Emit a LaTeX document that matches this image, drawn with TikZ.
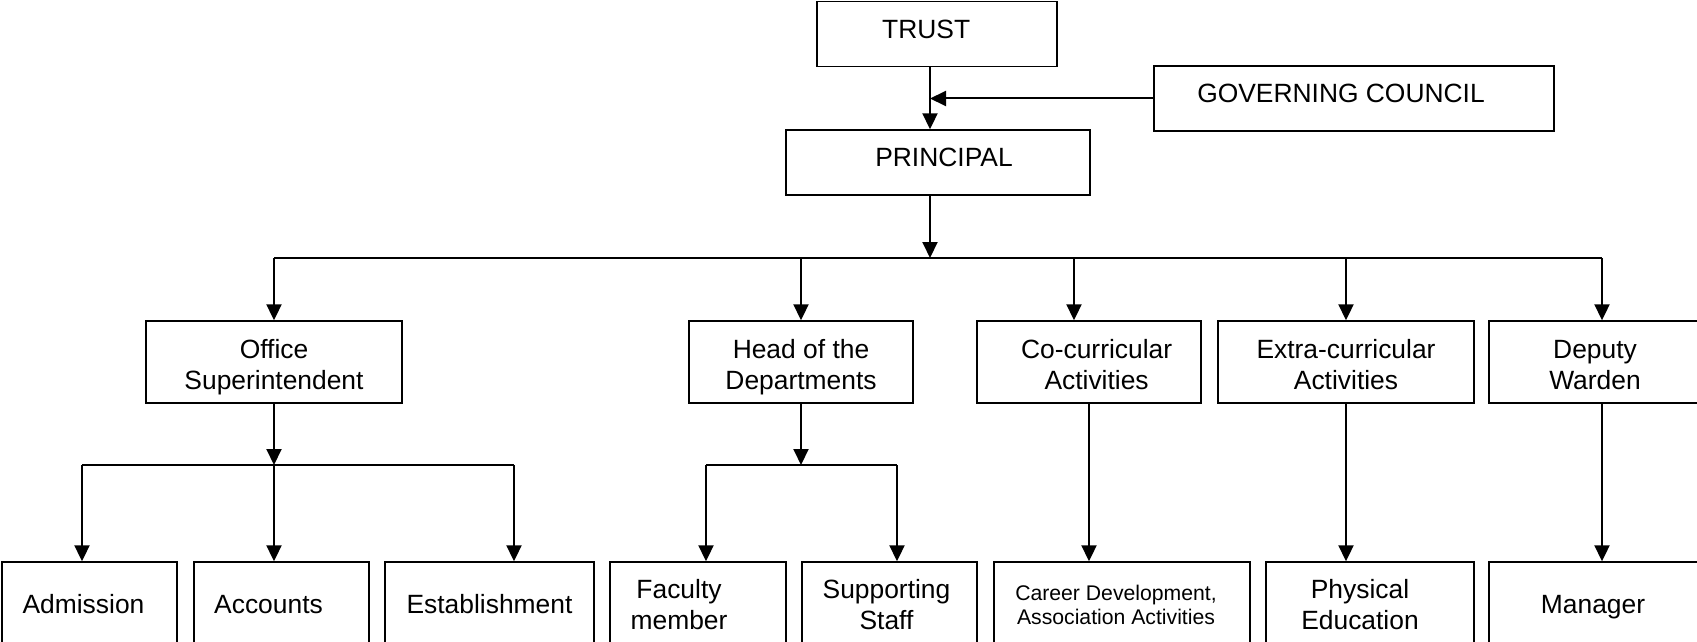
\documentclass[tikz,border=0pt]{standalone}
\usepackage{fontspec}
\setmainfont{Liberation Sans}
\usetikzlibrary{arrows.meta}
\tikzstyle{unit} = [rectangle, draw=black, line width=0.7pt, inner sep=0pt, align=center]
\tikzstyle{headbox} = [unit, minimum height=32.5pt]
\tikzstyle{midbox} = [unit, minimum height=41pt]
\tikzstyle{leafbox} = [unit, minimum height=42pt]
\tikzstyle{arrow} = [line width=1pt,-{Triangle[length=8pt,width=7.5pt]}]
\tikzstyle{link} = [line width=1pt]
% text placed off the middle of its box: x shift, y shift, lines
\newcommand{\nudge}[3]{\hspace*{#1}\raisebox{#2}[\height][\depth]{\begin{tabular}{@{}c@{}}#3\end{tabular}}\hspace*{-#1}}

\begin{document}
\begin{tikzpicture}[x=0.5pt, y=-0.5pt, font=\fontsize{13.2}{15.5}\selectfont]
    \useasboundingbox (0,0) rectangle (1697,642);
    \clip (0,0) rectangle (1697,642);

    % top of the chart
    \node (trust) [headbox, minimum width=120pt] at (937,34) {\nudge{-5.4pt}{1pt}{TRUST}};
    \node (gc) [headbox, minimum width=200pt] at (1354,98.5) {\nudge{-6.5pt}{1pt}{GOVERNING COUNCIL}};
    \node (principal) [headbox, minimum width=152pt] at (938,162.5) {\nudge{3pt}{1pt}{PRINCIPAL}};

    % second level
    \node (os) [midbox, minimum width=128pt] at (274,362) {\nudge{0pt}{-2.7pt}{Office\\Superintendent}};
    \node (hod) [midbox, minimum width=112pt] at (801,362) {\nudge{0pt}{-2.7pt}{Head of the\\Departments}};
    \node (cc) [midbox, minimum width=112pt] at (1089,362) {\nudge{3.8pt}{-2.7pt}{Co-curricular\\Activities}};
    \node (ec) [midbox, minimum width=128pt] at (1346,362) {\nudge{0pt}{-2.7pt}{Extra-curricular\\Activities}};
    \node (dw) [midbox, minimum width=113pt] at (1602,362) {\nudge{-3.5pt}{-2.7pt}{Deputy\\Warden}};

    % third level
    \node (adm) [leafbox, minimum width=87.5pt] at (89.5,604) {\nudge{-3pt}{-1.6pt}{Admission}};
    \node (acc) [leafbox, minimum width=87.5pt] at (281.5,604) {\nudge{-6.5pt}{-1.6pt}{Accounts}};
    \node (est) [leafbox, minimum width=104.5pt] at (489.5,604) {\nudge{0pt}{-1.6pt}{Establishment}};
    \node (fac) [leafbox, minimum width=88pt] at (698,604) {\nudge{-9.5pt}{-2pt}{Faculty\\member}};
    \node (sup) [leafbox, minimum width=87.5pt] at (889.5,604) {\nudge{-1.5pt}{-2pt}{Supporting\\Staff}};
    \node (car) [leafbox, minimum width=128pt, font=\fontsize{10.6}{11.8}\selectfont] at (1122,604) {\nudge{-3pt}{-2pt}{Career Development,\\Association Activities}};
    \node (phy) [leafbox, minimum width=104pt] at (1370,604) {\nudge{-5pt}{-2pt}{Physical\\Education}};
    \node (man) [leafbox, minimum width=113pt] at (1602,604) {\nudge{-4.5pt}{-1.6pt}{Manager}};

    % bus points
    \coordinate (stem) at (930,0);
    \coordinate (bus) at (930,258);
    \coordinate (cctap) at (1074,258);
    \coordinate (osbus) at (274,465);
    \coordinate (admtap) at (82,465);
    \coordinate (esttap) at (514,465);
    \coordinate (hodbus) at (801,465);
    \coordinate (factap) at (706,465);
    \coordinate (suptap) at (897,465);

    \draw [arrow] (trust.south -| stem) -- (principal.north -| stem);
    \draw [arrow] (gc.west) -- (gc.west -| stem);
    \draw [arrow] (principal.south -| stem) -- (bus);

    \draw [link] (bus -| os) -- (bus -| dw);
    \draw [arrow] (bus -| os) -- (os.north);
    \draw [arrow] (bus -| hod) -- (hod.north);
    \draw [arrow] (cctap) -- (cctap |- cc.north);
    \draw [arrow] (bus -| ec) -- (ec.north);
    \draw [arrow] (bus -| dw) -- (dw.north);

    \draw [arrow] (os.south) -- (osbus);
    \draw [link] (admtap) -- (esttap);
    \draw [arrow] (admtap) -- (admtap |- adm.north);
    \draw [arrow] (osbus) -- (osbus |- acc.north);
    \draw [arrow] (esttap) -- (esttap |- est.north);

    \draw [arrow] (hod.south) -- (hodbus);
    \draw [link] (factap) -- (suptap);
    \draw [arrow] (factap) -- (factap |- fac.north);
    \draw [arrow] (suptap) -- (suptap |- sup.north);

    \draw [arrow] (cc.south) -- (cc.south |- car.north);
    \draw [arrow] (ec.south) -- (ec.south |- phy.north);
    \draw [arrow] (dw.south) -- (dw.south |- man.north);

\end{tikzpicture}
\end{document}
